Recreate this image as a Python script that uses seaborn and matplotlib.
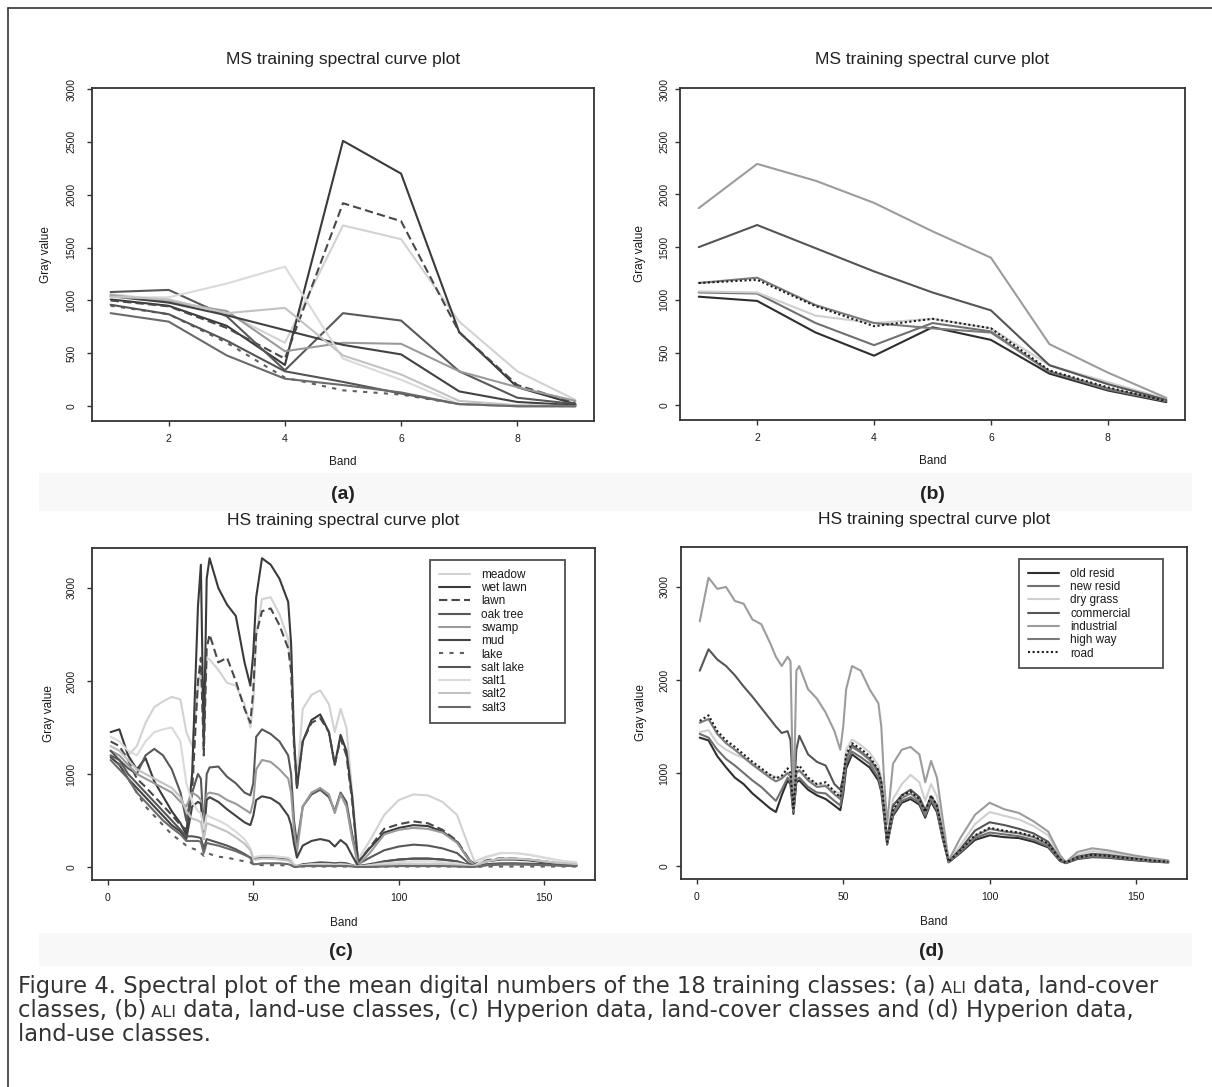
import pandas as pd
import seaborn as sns
import matplotlib.pyplot as plt
from matplotlib import font_manager
from matplotlib.patches import Rectangle
from matplotlib.lines import Line2D

sns.set_style("white")
names = {f.name for f in font_manager.fontManager.ttflist}
narrow = 'Liberation Sans Narrow' in names
plt.rcParams['font.family'] = ['Liberation Sans', 'DejaVu Sans']

# ---- class names ----
cover_classes = ['meadow', 'wet lawn', 'lawn', 'oak tree', 'swamp', 'mud',
                 'lake', 'salt lake', 'salt1', 'salt2', 'salt3']
use_classes = ['old resid', 'new resid', 'dry grass', 'commercial',
               'industrial', 'high way', 'road']

# ---- ALI (MS) bands ----
ms_bands = [1, 2, 3, 4, 5, 6, 7, 8, 9]

ms_meadow = [1060, 1000, 880, 600, 1710, 1580, 800, 330, 60]
ms_wet_lawn = [1010, 950, 760, 390, 2510, 2200, 700, 180, 20]
ms_lawn = [1000, 945, 740, 450, 1920, 1750, 700, 200, 30]
ms_oak_tree = [1080, 1100, 850, 340, 880, 810, 330, 80, 20]
ms_swamp = [1050, 990, 900, 520, 600, 590, 330, 180, 50]
ms_mud = [1040, 980, 860, 720, 580, 490, 140, 40, 10]
ms_lake = [950, 870, 600, 270, 150, 110, 20, 5, 0]
ms_salt_lake = [960, 870, 620, 330, 230, 120, 20, 0, 0]
ms_salt1 = [1030, 1030, 1160, 1320, 450, 250, 20, 0, 0]
ms_salt2 = [1040, 1010, 880, 930, 480, 300, 50, 10, 0]
ms_salt3 = [880, 800, 480, 260, 200, 130, 20, 0, 0]

ms_old_resid = [1030, 990, 690, 470, 740, 620, 300, 140, 30]
ms_new_resid = [1070, 1060, 780, 570, 780, 700, 320, 150, 40]
ms_dry_grass = [1080, 1070, 850, 780, 820, 730, 380, 220, 60]
ms_commercial = [1500, 1710, 1490, 1270, 1070, 900, 380, 200, 50]
ms_industrial = [1870, 2290, 2130, 1920, 1650, 1400, 580, 310, 70]
ms_high_way = [1160, 1210, 950, 780, 730, 690, 320, 160, 40]
ms_road = [1160, 1190, 940, 750, 820, 730, 330, 170, 40]

# ---- Hyperion (HS) bands, read at selected band numbers ----
hs_bands = [1, 4, 7, 10, 13, 16, 19, 22, 25, 27,
            29, 31, 32, 33, 34, 35, 38, 41, 44, 47,
            49, 50, 51, 53, 56, 59, 62, 63, 64, 65,
            67, 70, 73, 76, 78, 80, 82, 84, 86, 90,
            95, 100, 105, 110, 115, 120, 124, 126, 130, 135,
            140, 145, 150, 155, 161]

hs_meadow = [1300, 1250, 1200, 1300, 1550, 1720, 1780, 1830, 1800, 1450,
             1300, 1900, 2150, 1400, 2250, 2230, 2120, 1980, 1950, 1750,
             1500, 1750, 2500, 2880, 2900, 2720, 2450, 2150, 1300, 950,
             1700, 1850, 1900, 1750, 1450, 1700, 1500, 800, 80, 280,
             560, 720, 780, 770, 700, 560, 220, 60, 110, 150,
             150, 130, 100, 70, 40]
hs_wet_lawn = [1450, 1480, 1200, 1050, 1170, 920, 760, 600, 470, 350,
               1000, 2800, 3250, 1300, 3100, 3320, 3000, 2820, 2700, 2200,
               1950, 2300, 2900, 3320, 3250, 3100, 2850, 2400, 1400, 850,
               1350, 1580, 1640, 1450, 1100, 1420, 1250, 750, 50, 200,
               370, 420, 450, 440, 380, 270, 80, 30, 60, 80,
               80, 70, 50, 30, 20]
hs_lawn = [1350, 1300, 1150, 950, 860, 760, 660, 560, 450, 400,
           800, 2000, 2250, 1200, 2350, 2500, 2200, 2250, 2000, 1700,
           1550, 1900, 2500, 2750, 2780, 2600, 2350, 2100, 1300, 850,
           1350, 1550, 1600, 1450, 1100, 1380, 1200, 700, 50, 210,
           410, 460, 490, 470, 400, 280, 90, 30, 70, 95,
           90, 80, 60, 40, 20]
hs_oak_tree = [1200, 1150, 1060, 1000, 1200, 1270, 1200, 1050, 800, 500,
               800, 1000, 950, 400, 1000, 1070, 1080, 970, 900, 800,
               770, 900, 1400, 1480, 1430, 1350, 1200, 1000, 500, 250,
               650, 780, 830, 750, 600, 800, 700, 350, 30, 100,
               180, 220, 240, 230, 200, 150, 40, 10, 30, 40,
               40, 35, 30, 20, 10]
hs_swamp = [1250, 1200, 1100, 1000, 950, 900, 850, 800, 700, 650,
            800, 760, 720, 450, 780, 800, 780, 720, 680, 620,
            580, 700, 1050, 1150, 1130, 1050, 950, 800, 400, 150,
            650, 800, 850, 780, 580, 780, 650, 300, 20, 150,
            350, 400, 420, 410, 370, 260, 80, 20, 60, 90,
            90, 80, 60, 40, 25]
hs_mud = [1180, 1100, 950, 850, 750, 650, 550, 450, 380, 300,
          650, 700, 680, 300, 720, 750, 700, 620, 550, 480,
          450, 550, 720, 760, 740, 680, 550, 450, 250, 100,
          230, 280, 300, 280, 220, 290, 240, 120, 10, 30,
          60, 80, 90, 90, 80, 60, 20, 10, 20, 30,
          30, 30, 25, 20, 15]
hs_lake = [1200, 1100, 950, 800, 650, 550, 450, 350, 280, 230,
           200, 180, 150, 120, 150, 140, 110, 100, 80, 60,
           50, 30, 25, 20, 20, 20, 15, 15, 10, 5,
           5, 5, 5, 5, 5, 5, 5, 5, 0, 0,
           5, 5, 5, 5, 5, 5, 0, 0, 5, 5,
           5, 5, 5, 5, 5]
hs_salt_lake = [1250, 1150, 1000, 900, 800, 700, 600, 500, 400, 330,
                330, 320, 310, 200, 300, 290, 260, 230, 190, 140,
                100, 90, 100, 100, 95, 90, 80, 60, 20, 10,
                30, 40, 50, 45, 40, 45, 40, 20, 5, 20,
                60, 80, 90, 90, 80, 60, 20, 10, 20, 30,
                30, 30, 25, 20, 15]
hs_salt1 = [1400, 1350, 1250, 1200, 1350, 1450, 1480, 1500, 1350, 900,
            700, 600, 580, 400, 560, 540, 500, 450, 380, 300,
            200, 100, 110, 120, 120, 110, 100, 80, 30, 10,
            20, 30, 30, 30, 25, 30, 25, 15, 5, 20,
            40, 50, 60, 60, 50, 40, 15, 10, 100, 150,
            150, 130, 100, 70, 50]
hs_salt2 = [1300, 1250, 1150, 1050, 1000, 950, 900, 850, 750, 600,
            520, 500, 480, 300, 470, 460, 420, 380, 320, 250,
            180, 80, 80, 90, 90, 80, 70, 50, 20, 10,
            15, 20, 20, 20, 15, 20, 15, 10, 5, 10,
            20, 30, 30, 30, 30, 20, 10, 5, 60, 90,
            90, 80, 60, 45, 30]
hs_salt3 = [1150, 1050, 950, 800, 700, 600, 500, 420, 350, 280,
            280, 280, 270, 150, 260, 250, 230, 200, 170, 130,
            100, 30, 30, 40, 40, 40, 30, 20, 0, 0,
            10, 10, 10, 10, 10, 10, 10, 5, 0, 0,
            5, 10, 10, 10, 10, 5, 0, 0, 20, 30,
            30, 25, 20, 15, 10]

hs_old_resid = [1380, 1350, 1180, 1060, 950, 880, 780, 700, 620, 580,
                760, 920, 880, 560, 900, 920, 820, 760, 720, 650,
                600, 780, 1050, 1200, 1130, 1060, 920, 800, 530, 230,
                540, 680, 720, 660, 520, 690, 580, 290, 40, 140,
                280, 330, 310, 300, 260, 200, 55, 30, 75, 95,
                90, 75, 60, 48, 38]
hs_new_resid = [1420, 1380, 1250, 1150, 1080, 1000, 920, 850, 760, 700,
                820, 950, 900, 580, 930, 950, 850, 790, 780, 700,
                650, 820, 1100, 1230, 1170, 1100, 950, 820, 550, 240,
                560, 700, 740, 680, 540, 710, 600, 300, 40, 150,
                300, 360, 340, 320, 280, 210, 60, 35, 80, 100,
                95, 80, 65, 50, 40]
hs_dry_grass = [1440, 1460, 1320, 1250, 1200, 1160, 1100, 1030, 980, 960,
                950, 1000, 980, 850, 1000, 1020, 930, 880, 870, 800,
                780, 980, 1250, 1360, 1300, 1220, 1080, 950, 650, 300,
                720, 880, 980, 900, 700, 880, 750, 400, 50, 220,
                450, 580, 540, 500, 430, 330, 100, 40, 120, 160,
                145, 120, 95, 75, 55]
hs_commercial = [2100, 2330, 2220, 2150, 2050, 1930, 1820, 1700, 1580, 1500,
                 1430, 1450, 1350, 700, 1250, 1400, 1200, 1120, 1080, 880,
                 820, 950, 1150, 1300, 1230, 1150, 1020, 900, 600, 280,
                 650, 760, 820, 740, 600, 750, 650, 350, 50, 180,
                 380, 470, 440, 400, 350, 260, 80, 40, 100, 130,
                 120, 100, 80, 60, 45]
hs_industrial = [2630, 3100, 2980, 3000, 2850, 2820, 2650, 2600, 2400, 2250,
                 2150, 2250, 2200, 600, 2100, 2150, 1900, 1800, 1650, 1450,
                 1250, 1500, 1900, 2150, 2100, 1900, 1750, 1500, 900, 450,
                 1100, 1250, 1280, 1200, 900, 1130, 950, 500, 60, 300,
                 550, 680, 610, 570, 480, 370, 120, 40, 150, 190,
                 170, 140, 110, 85, 60]
hs_high_way = [1540, 1580, 1420, 1320, 1250, 1170, 1090, 1020, 950, 910,
               940, 1000, 960, 600, 1000, 1030, 920, 850, 860, 770,
               720, 900, 1150, 1280, 1220, 1140, 1000, 880, 580, 250,
               580, 730, 780, 700, 560, 740, 630, 320, 45, 160,
               320, 400, 370, 350, 310, 230, 70, 40, 90, 115,
               105, 90, 70, 55, 45]
hs_road = [1560, 1620, 1450, 1350, 1280, 1200, 1120, 1050, 980, 940,
           970, 1050, 1000, 620, 1050, 1080, 950, 880, 900, 800,
           740, 950, 1200, 1320, 1260, 1180, 1030, 900, 600, 260,
           600, 760, 800, 720, 580, 760, 650, 330, 45, 170,
           330, 410, 380, 360, 320, 240, 70, 40, 90, 120,
           110, 90, 75, 60, 45]

# ---- styles ----
cover_colors = {'meadow': '#d2d2d2', 'wet lawn': '#3a3a3a', 'lawn': '#484848',
                'oak tree': '#585858', 'swamp': '#9a9a9a', 'mud': '#424242',
                'lake': '#606060', 'salt lake': '#555555', 'salt1': '#dadada',
                'salt2': '#c2c2c2', 'salt3': '#6a6a6a'}
cover_dashes = {c: '' for c in cover_classes}
cover_dashes['lawn'] = (4, 2)
cover_dashes['lake'] = (2, 3)
use_colors = {'old resid': '#2e2e2e', 'new resid': '#707070', 'dry grass': '#cfcfcf',
              'commercial': '#555555', 'industrial': '#9c9c9c', 'high way': '#7a7a7a',
              'road': '#1e1e1e'}
use_dashes = {c: '' for c in use_classes}
use_dashes['road'] = (1, 1.2)


def long_table(bands, classes, series):
    rows = [(b, c, v) for c, vals in zip(classes, series) for b, v in zip(bands, vals)]
    return pd.DataFrame(rows, columns=['band', 'class', 'value'])


ms_cover = long_table(ms_bands, cover_classes,
                      [ms_meadow, ms_wet_lawn, ms_lawn, ms_oak_tree, ms_swamp, ms_mud,
                       ms_lake, ms_salt_lake, ms_salt1, ms_salt2, ms_salt3])
ms_use = long_table(ms_bands, use_classes,
                    [ms_old_resid, ms_new_resid, ms_dry_grass, ms_commercial,
                     ms_industrial, ms_high_way, ms_road])
hs_cover = long_table(hs_bands, cover_classes,
                      [hs_meadow, hs_wet_lawn, hs_lawn, hs_oak_tree, hs_swamp, hs_mud,
                       hs_lake, hs_salt_lake, hs_salt1, hs_salt2, hs_salt3])
hs_use = long_table(hs_bands, use_classes,
                    [hs_old_resid, hs_new_resid, hs_dry_grass, hs_commercial,
                     hs_industrial, hs_high_way, hs_road])

W, H = 1212, 1087
fig = plt.figure(figsize=(W / 100, H / 100), dpi=100)


def px_axes(l, t, r, b):
    return fig.add_axes([l / W, 1 - b / H, (r - l) / W, (b - t) / H])


ax_a = px_axes(92, 88, 594, 421)
ax_b = px_axes(680, 88, 1185, 420)
ax_c = px_axes(92, 548, 595, 880)
ax_d = px_axes(681, 547, 1187, 879)

panels = [
    (ax_a, ms_cover, cover_colors, cover_dashes, False, 'MS', 7.5, -0.079),
    (ax_b, ms_use, use_colors, use_dashes, False, 'MS', 4.0, -0.068),
    (ax_c, hs_cover, cover_colors, cover_dashes, True, 'HS', 7.5, -0.073),
    (ax_d, hs_use, use_colors, use_dashes, True, 'HS', 4.7, -0.068),
]

title_kw = dict(fontsize=13.5, family='Liberation Sans Narrow') if narrow else dict(fontsize=12.5)

for ax, df, colors, dashes, with_legend, kind, ypad, ylab_x in panels:
    sns.lineplot(data=df, x='band', y='value', hue='class', style='class',
                 palette=colors, dashes=dashes, estimator=None, sort=False,
                 linewidth=1.5, legend=with_legend, ax=ax)
    ax.set_facecolor('white')
    for s in ax.spines.values():
        s.set_color('#333333')
        s.set_linewidth(1.3)
    ax.tick_params(direction='out', length=3.6, width=1, color='#333333',
                   labelsize=7.5, labelcolor='#1a1a1a', bottom=True, left=True)
    ax.tick_params(axis='y', pad=ypad)
    ax.tick_params(axis='x', pad=6)
    if kind == 'MS':
        ax.set_xlim(0.68, 9.32)
        ax.set_ylim(-140, 3010)
        ax.set_xticks([2, 4, 6, 8])
        yt = [0, 500, 1000, 1500, 2000, 2500, 3000]
    else:
        ax.set_xlim(-5.4, 167.4)
        ax.set_ylim(-140, 3430)
        ax.set_xticks([0, 50, 100, 150])
        yt = [0, 1000, 2000, 3000]
    ax.set_yticks(yt, labels=[str(v) for v in yt], rotation=90, va='center')
    ax.set_xlabel('Band', fontsize=8.5, color='#1a1a1a')
    ax.set_ylabel('Gray value', fontsize=8.5, color='#1a1a1a')
    ax.xaxis.set_label_coords(0.5, -0.106 if kind == 'MS' else -0.112)
    ax.yaxis.set_label_coords(ylab_x, 0.5)
    ax.set_title(f'{kind} training spectral curve plot', color='#222222',
                 pad=17 if kind == 'MS' else 16.3, **title_kw)
    if with_legend:
        handles, labels = ax.get_legend_handles_labels()
        if ax is ax_c:
            anchor = (0.672, 0.0, 0.2684, 0.964)
        else:
            anchor = (0.668, 0.0, 0.2845, 0.964)
        leg = ax.legend(handles, labels, loc='upper left', bbox_to_anchor=anchor,
                        mode='expand', borderaxespad=0, frameon=True, fancybox=False,
                        edgecolor='#222222', fontsize=8.5, handlelength=2.6,
                        handletextpad=1.0, labelspacing=0.11, borderpad=0.75)
        leg.get_frame().set_linewidth(1.3)
        for t in leg.get_texts():
            t.set_color('#1a1a1a')

# panel letters
for label, x, y in [('(a)', 343, 495), ('(b)', 932, 494), ('(c)', 341, 951), ('(d)', 931, 951)]:
    fig.text(x / W, 1 - y / H, label, ha='center', va='center',
             fontsize=14, fontweight='bold', color='#222222')

# faint bands behind the panel letters
for top, bottom in [(473, 511), (933, 966)]:
    fig.add_artist(Rectangle((39 / W, 1 - bottom / H), (1192 - 39) / W, (bottom - top) / H,
                             transform=fig.transFigure, facecolor='#f8f8f8',
                             edgecolor='none', zorder=-5))

# outer frame (cut off at right and bottom)
fig.add_artist(Line2D([8 / W, 8 / W], [0, 1 - 8 / H], transform=fig.transFigure,
                      color='#333333', lw=1.2))
fig.add_artist(Line2D([8 / W, 1], [1 - 8 / H, 1 - 8 / H], transform=fig.transFigure,
                      color='#333333', lw=1.2))

# caption, with small-cap ALI
cap_kw = dict(fontsize=16.3, color='#333333', family='DejaVu Sans')
small_kw = dict(fontsize=11.7, color='#333333', family='DejaVu Sans')
# descent difference between the two sizes, in points, to keep one baseline
shift = 0.236 * (16.3 - 11.7)


def chain(prev, text, kw, dy):
    return ax_a.annotate(text, xy=(1, 0), xycoords=prev, xytext=(0, dy),
                         textcoords='offset points', va='bottom', ha='left',
                         annotation_clip=False, **kw)


t = fig.text(18 / W, 1 - 993 / H,
             'Figure 4. Spectral plot of the mean digital numbers of the 18 training classes: (a)',
             va='baseline', **cap_kw)
t = chain(t, ' ALI', small_kw, shift)
chain(t, ' data, land-cover', cap_kw, -shift)

t = fig.text(18 / W, 1 - 1017 / H, 'classes, (b)', va='baseline', **cap_kw)
t = chain(t, ' ALI', small_kw, shift)
chain(t, ' data, land-use classes, (c) Hyperion data, land-cover classes and (d) Hyperion data,',
      cap_kw, -shift)

fig.text(18 / W, 1 - 1041 / H, 'land-use classes.', va='baseline', **cap_kw)

fig.savefig('out.png', dpi=100)
